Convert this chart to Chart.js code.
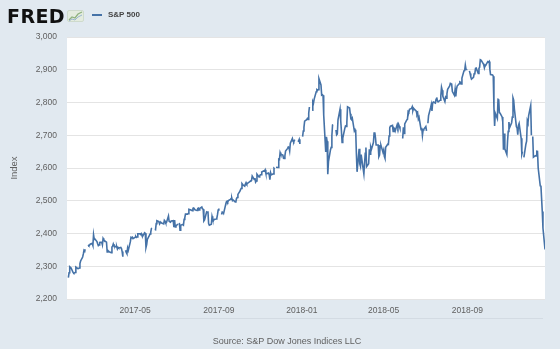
<!DOCTYPE html>
<html>
<head>
<meta charset="utf-8">
<script src="https://cdn.jsdelivr.net/npm/chart.js@4"></script>
<style>
  html, body { margin: 0; padding: 0; background: #e1e9f0; }
  body { width: 560px; height: 349px; position: relative; overflow: hidden; font-family: "Liberation Sans", Arial, sans-serif; }
  #chart { position: absolute; left: 0; top: 0; }
  #logo { position: absolute; left: 7px; top: 7px; font: bold 19px/19px "DejaVu Sans", sans-serif; letter-spacing: 0.4px; color: #111; }
  #logo-icon { position: absolute; left: 67px; top: 9px; }
  #legend { position: absolute; left: 92px; top: 9px; height: 12px; display: flex; align-items: center; font: bold 8px/12px "Liberation Sans", Arial, sans-serif; color: #444; }
  #legend .swatch { display: inline-block; width: 10px; height: 1.5px; background: #4572a7; margin-right: 6px; }
  #source { position: absolute; left: 0; top: 336px; width: 574px; text-align: center; font: 9px/11px "Liberation Sans", Arial, sans-serif; color: #5f5f5f; }
</style>
</head>
<body>
<canvas id="chart" width="560" height="349"></canvas>
<div id="logo">FRED</div>
<svg id="logo-icon" width="18" height="14" viewBox="0 0 18 14">
  <rect x="0.5" y="1.5" width="16" height="11" rx="1.5" fill="#e4ecdf" stroke="#c9d6c4" stroke-width="0.8"/>
  <polyline points="2,11 5,8 8,9 11,5 15,3" fill="none" stroke="#8fb27f" stroke-width="1.3"/>
  <polyline points="2,12 5,10 8,11 11,8 15,6" fill="none" stroke="#9ab6cf" stroke-width="1"/>
</svg>
<div id="legend"><span class="swatch"></span><span>S&amp;P 500</span></div>
<div id="source">Source: S&amp;P Dow Jones Indices LLC</div>

<script>
// S&P 500 daily closes, one array per month (trading days only, in order)
const jan2017 = [2265.20, 2280.07, 2298.37, 2296.68, 2294.69, 2280.90, 2278.87];
const feb2017 = [2279.55, 2280.85, 2297.42, 2292.56, 2293.08, 2294.67, 2307.87, 2316.10, 2328.25, 2337.58,
                 2349.25, 2347.22, 2351.16, 2365.38, 2362.82, 2363.81, 2367.34, 2369.75, 2363.64];
const mar2017 = [2395.96, 2381.92, 2383.12, 2375.31, 2368.39, 2362.98, 2364.87, 2372.60, 2373.47, 2365.45,
                 2385.26, 2381.38, 2378.25, 2373.47, 2344.02, 2348.45, 2345.96, 2343.98, 2341.59, 2358.57,
                 2361.13, 2368.06, 2362.72];
const apr2017 = [2358.84, 2360.16, 2352.95, 2357.49, 2355.54, 2357.16, 2353.78, 2344.93, 2328.95, 2349.01,
                 2342.19, 2338.17, 2355.84, 2348.69, 2374.15, 2388.61, 2387.45, 2388.77, 2384.20];
const may2017 = [2388.33, 2391.17, 2388.13, 2389.52, 2399.29, 2399.38, 2396.92, 2399.63, 2394.44, 2390.90,
                 2402.32, 2400.67, 2357.03, 2365.72, 2381.73, 2394.02, 2398.42, 2404.39, 2415.07, 2415.82,
                 2412.91, 2411.80];
const jun2017 = [2430.06, 2439.07, 2436.10, 2429.33, 2433.14, 2433.79, 2431.77, 2429.39, 2440.35, 2437.92,
                 2432.46, 2433.15, 2453.46, 2437.03, 2435.61, 2434.50, 2438.30, 2439.07, 2419.38, 2440.69,
                 2419.70, 2423.41];
const jul2017 = [2429.01, 2432.54, 2409.75, 2425.18, 2427.43, 2425.53, 2443.25, 2447.83, 2459.27, 2459.14,
                 2460.61, 2473.83, 2473.45, 2472.54, 2469.91, 2477.13, 2477.83, 2475.42, 2472.10, 2470.30];
const aug2017 = [2476.35, 2477.57, 2472.16, 2476.83, 2480.91, 2474.92, 2474.02, 2438.21, 2441.32, 2465.84,
                 2464.61, 2468.11, 2430.01, 2425.55, 2428.37, 2452.51, 2444.04, 2438.97, 2443.05, 2444.24,
                 2446.30, 2457.59, 2471.65];
const sep2017 = [2476.55, 2457.85, 2465.54, 2465.10, 2461.43, 2488.11, 2496.48, 2498.37, 2495.62, 2500.23,
                 2503.87, 2506.65, 2508.24, 2500.60, 2502.22, 2496.66, 2496.84, 2507.04, 2510.06, 2519.36];
const oct2017 = [2529.12, 2534.58, 2537.74, 2552.07, 2549.33, 2544.73, 2550.64, 2555.24, 2550.93, 2553.17,
                 2557.64, 2559.36, 2561.26, 2562.10, 2575.21, 2564.98, 2569.13, 2557.15, 2560.40, 2581.07,
                 2572.83, 2575.26];
const nov2017 = [2579.36, 2579.85, 2587.84, 2591.13, 2590.64, 2594.38, 2584.62, 2582.30, 2584.84, 2578.87,
                 2564.62, 2585.64, 2578.85, 2582.14, 2599.03, 2597.08, 2602.42, 2601.42, 2627.04, 2626.07,
                 2647.58];
const dec2017 = [2642.22, 2639.44, 2629.57, 2629.27, 2636.98, 2651.50, 2659.99, 2664.11, 2662.85, 2652.01,
                 2675.81, 2690.16, 2681.47, 2679.25, 2684.57, 2683.34, 2680.50, 2682.62, 2687.54, 2673.61];
const jan2018 = [2695.81, 2713.06, 2723.99, 2743.15, 2747.71, 2751.29, 2748.23, 2767.56, 2786.24, 2776.42,
                 2802.56, 2798.03, 2810.30, 2832.97, 2839.13, 2837.54, 2839.25, 2872.87, 2853.53, 2822.43,
                 2823.81];
const feb2018 = [2821.98, 2762.13, 2648.94, 2695.14, 2681.66, 2581.00, 2619.55, 2656.00, 2662.94, 2698.63,
                 2731.20, 2732.22, 2716.26, 2701.33, 2703.96, 2747.30, 2779.60, 2744.28, 2713.83];
const mar2018 = [2677.67, 2691.25, 2720.94, 2728.12, 2726.80, 2738.97, 2786.57, 2783.02, 2765.31, 2749.48,
                 2747.33, 2752.01, 2712.92, 2716.94, 2711.93, 2643.69, 2588.26, 2658.55, 2612.62, 2605.00,
                 2640.87];
const apr2018 = [2581.88, 2614.45, 2644.69, 2662.84, 2604.47, 2613.16, 2656.87, 2642.19, 2663.99, 2656.30,
                 2677.84, 2706.39, 2708.64, 2693.13, 2670.14, 2670.29, 2634.56, 2639.40, 2666.94, 2669.91,
                 2648.05];
const may2018 = [2654.80, 2635.67, 2629.73, 2663.42, 2672.63, 2671.92, 2697.79, 2723.07, 2727.72, 2730.13,
                 2711.45, 2722.46, 2720.13, 2712.97, 2733.01, 2724.44, 2733.29, 2727.76, 2721.33, 2689.86,
                 2724.01, 2705.27];
const jun2018 = [2734.62, 2746.87, 2748.80, 2772.35, 2770.37, 2779.03, 2782.00, 2786.85, 2775.63, 2782.49,
                 2779.66, 2773.75, 2762.59, 2767.32, 2749.76, 2754.88, 2717.07, 2723.06, 2699.63, 2716.31,
                 2718.37];
const jul2018 = [2726.71, 2713.22, 2736.61, 2759.82, 2784.17, 2793.84, 2774.02, 2798.29, 2801.31, 2798.43,
                 2809.55, 2815.62, 2804.49, 2801.83, 2806.98, 2820.40, 2846.07, 2837.44, 2818.82, 2802.60,
                 2816.29];
const aug2018 = [2813.36, 2827.22, 2840.35, 2850.40, 2858.45, 2857.70, 2853.58, 2833.28, 2821.93, 2839.96,
                 2818.37, 2840.69, 2850.13, 2857.05, 2862.96, 2861.82, 2856.98, 2874.69, 2896.74, 2897.52,
                 2914.04, 2901.13, 2901.52];
const sep2018 = [2896.72, 2888.60, 2878.05, 2871.68, 2877.13, 2887.89, 2888.92, 2904.18, 2904.98, 2888.80,
                 2904.31, 2907.95, 2930.75, 2929.67, 2919.37, 2915.56, 2905.97, 2914.00, 2913.98];
const oct2018 = [2924.59, 2923.43, 2925.51, 2901.61, 2885.57, 2884.43, 2880.34, 2785.68, 2728.37, 2767.13,
                 2750.79, 2809.92, 2809.21, 2768.78, 2767.78, 2755.88, 2740.69, 2656.10, 2705.57, 2658.69,
                 2641.25, 2682.63, 2711.74];
const nov2018 = [2740.37, 2723.06, 2738.31, 2755.45, 2813.89, 2806.83, 2781.01, 2726.22, 2722.18, 2701.58,
                 2730.20, 2736.27, 2690.73, 2641.89, 2649.93, 2632.56, 2673.45, 2682.17, 2743.79, 2737.80,
                 2760.17];
const dec2018 = [2790.37, 2700.06, 2695.95, 2633.08, 2637.72, 2636.78, 2651.07, 2650.54, 2599.95, 2545.94,
                 2546.16, 2506.96, 2467.42, 2416.62, 2351.10];

// Market holidays: weekdays without an observation (drawn as gaps)
const holidays = ['2017-02-20', '2017-04-14', '2017-05-29', '2017-07-04', '2017-09-04', '2017-11-23',
                  '2017-12-25', '2018-01-01', '2018-01-15', '2018-02-19', '2018-03-30', '2018-05-28',
                  '2018-07-04', '2018-09-03', '2018-11-22', '2018-12-05'];

const seriesStart = '2017-01-23';
const axisStart = '2017-01-21';
const axisEnd = '2018-12-24';

// Axis labels
const xTickLabels = ['2017-05', '2017-09', '2018-01', '2018-05', '2018-09'];
const yTickValues = [2200, 2300, 2400, 2500, 2600, 2700, 2800, 2900, 3000];

const months = [
  ['2017-01', jan2017], ['2017-02', feb2017], ['2017-03', mar2017], ['2017-04', apr2017],
  ['2017-05', may2017], ['2017-06', jun2017], ['2017-07', jul2017], ['2017-08', aug2017],
  ['2017-09', sep2017], ['2017-10', oct2017], ['2017-11', nov2017], ['2017-12', dec2017],
  ['2018-01', jan2018], ['2018-02', feb2018], ['2018-03', mar2018], ['2018-04', apr2018],
  ['2018-05', may2018], ['2018-06', jun2018], ['2018-07', jul2018], ['2018-08', aug2018],
  ['2018-09', sep2018], ['2018-10', oct2018], ['2018-11', nov2018], ['2018-12', dec2018]
];

const DAY = 86400000;
function dayNum(iso) {
  const [y, m, d] = iso.split('-').map(Number);
  return Date.UTC(y, m - 1, d) / DAY;
}
function isoOf(y, m, d) {
  return y + '-' + String(m).padStart(2, '0') + '-' + String(d).padStart(2, '0');
}

// Lay each month's closes onto its trading days; holidays become null so the line breaks
function buildPoints() {
  const points = [];
  const startDay = dayNum(seriesStart);
  for (const [ym, closes] of months) {
    const [y, m] = ym.split('-').map(Number);
    const daysInMonth = new Date(Date.UTC(y, m, 0)).getUTCDate();
    let i = 0;
    for (let d = 1; d <= daysInMonth && i < closes.length; d++) {
      const iso = isoOf(y, m, d);
      const x = dayNum(iso);
      const wd = new Date(x * DAY).getUTCDay();
      if (wd === 0 || wd === 6 || x < startDay) continue;
      if (holidays.includes(iso)) { points.push({ x, y: null }); continue; }
      points.push({ x, y: closes[i++] });
    }
    if (i !== closes.length) console.warn('unplaced closes in ' + ym);
  }
  return points;
}

const GRID = '#e4e4e4';
const TICK_COLOR = '#606060';

const plotBackground = {
  id: 'plotBackground',
  beforeDraw(chart) {
    const { ctx, chartArea: a } = chart;
    ctx.save();
    ctx.fillStyle = '#ffffff';
    ctx.fillRect(a.left, a.top, a.right - a.left, a.bottom - a.top);
    // faint rule under the date labels
    ctx.strokeStyle = '#d3dbe3';
    ctx.lineWidth = 1;
    ctx.beginPath();
    ctx.moveTo(70, 318.5);
    ctx.lineTo(543, 318.5);
    ctx.stroke();
    ctx.restore();
  }
};

new Chart(document.getElementById('chart'), {
  type: 'line',
  data: {
    datasets: [{
      label: 'S&P 500',
      data: buildPoints(),
      borderColor: '#4572a7',
      borderWidth: 1.6,
      pointRadius: 0,
      tension: 0,
      spanGaps: false,
      fill: false
    }]
  },
  options: {
    responsive: false,
    animation: false,
    devicePixelRatio: 1,
    events: [],
    layout: { padding: { top: 37, right: 15, left: 0, bottom: 0 } },
    plugins: { legend: { display: false }, tooltip: { enabled: false } },
    scales: {
      x: {
        type: 'linear',
        min: dayNum(axisStart),
        max: dayNum(axisEnd),
        grid: { display: false, drawTicks: false },
        border: { display: false },
        afterFit(scale) { scale.height = 50; },
        afterBuildTicks(scale) {
          scale.ticks = xTickLabels.map(s => ({ value: dayNum(s + '-01') }));
        },
        ticks: {
          autoSkip: false,
          maxRotation: 0,
          padding: 7,
          color: TICK_COLOR,
          font: { family: '"Liberation Sans", Arial, sans-serif', size: 8.5 },
          callback: (value, index) => xTickLabels[index]
        }
      },
      y: {
        min: 2200,
        max: 3000,
        grid: { color: GRID, lineWidth: 1, drawTicks: false },
        border: { display: false },
        afterFit(scale) { scale.width = 67; },
        afterBuildTicks(scale) {
          scale.ticks = yTickValues.map(v => ({ value: v }));
        },
        ticks: {
          padding: 10,
          color: TICK_COLOR,
          font: { family: '"Liberation Sans", Arial, sans-serif', size: 8.5 },
          callback: v => v.toLocaleString('en-US')
        },
        title: {
          display: true,
          text: 'Index',
          color: TICK_COLOR,
          padding: { top: 9, bottom: 0 },
          font: { family: '"Liberation Sans", Arial, sans-serif', size: 9.5 }
        }
      }
    }
  },
  plugins: [plotBackground]
});
</script>
</body>
</html>
